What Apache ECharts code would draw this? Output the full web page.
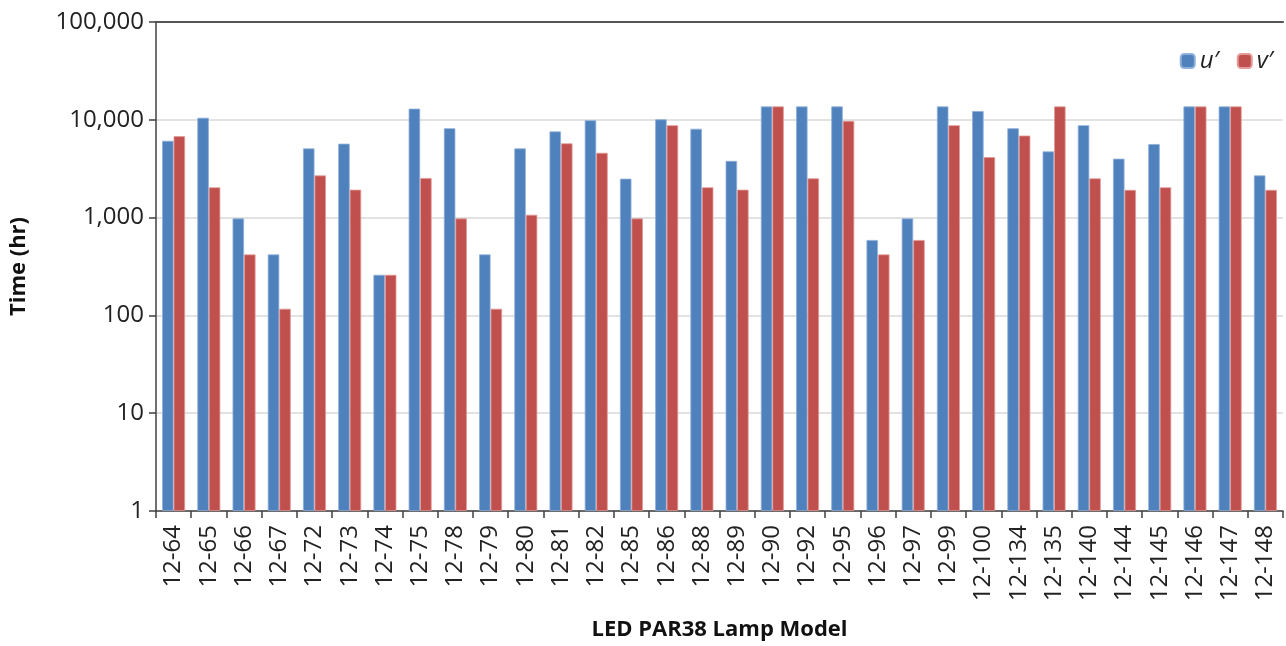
<!DOCTYPE html>
<html><head><meta charset="utf-8">
<script src="https://cdn.jsdelivr.net/npm/echarts@6/dist/echarts.min.js"></script>
<style>html,body{margin:0;padding:0;background:#fff}#c{width:1286px;height:646px}</style>
</head><body><div id="c"></div>
<script>
const categories = ['12-64','12-65','12-66','12-67','12-72','12-73','12-74','12-75','12-78','12-79','12-80','12-81','12-82','12-85','12-86','12-88','12-89','12-90','12-92','12-95','12-96','12-97','12-99','12-100','12-134','12-135','12-140','12-144','12-145','12-146','12-147','12-148'];
const uValues = [6100,10500,980,420,5100,5700,260,13000,8200,420,5100,7600,9900,2500,10100,8100,3800,13700,13700,13700,590,980,13700,12300,8200,4750,8800,4000,5650,13700,13700,2700];
const vValues = [6800,2040,420,117,2700,1930,260,2540,980,117,1070,5750,4600,980,8800,2040,1930,13700,2520,9750,420,590,8800,4150,6900,13700,2520,1920,2040,13700,13700,1920];
const yTicks = [1,10,100,1000,10000,100000];
const seriesNames = ['u\u2032','v\u2032'];

const font = 'Open Sans';
const chart = echarts.init(document.getElementById('c'));
chart.setOption({
  animation:false,
  textStyle:{fontFamily:font},
  legend:{
    right:8, top:44, itemWidth:14, itemHeight:14, itemGap:18,
    textStyle:{fontSize:24, fontStyle:'italic', color:'#222', fontFamily:font},
    data:seriesNames
  },
  grid:{left:150, right:3, top:22, bottom:130, containLabel:false},
  xAxis:[{
    type:'category', data:categories,
    name:'LED PAR38 Lamp Model', nameLocation:'middle', nameGap:108,
    nameTextStyle:{fontSize:22, fontWeight:'bold', color:'#111', fontFamily:font},
    axisLine:{lineStyle:{color:'#404040', width:1.5}},
    axisTick:{show:true, length:7, lineStyle:{color:'#404040', width:1.5}},
    axisLabel:{rotate:90, fontSize:24, color:'#222', margin:14, interval:0, fontFamily:font}
  },{
    type:'category', data:categories, position:'top',
    axisLine:{lineStyle:{color:'#555', width:2}},
    axisTick:{show:false}, axisLabel:{show:false}
  }],
  yAxis:{
    type:'log', logBase:10, min:yTicks[0], max:yTicks[yTicks.length-1],
    name:'Time (hr)', nameLocation:'middle', nameGap:126,
    nameTextStyle:{fontSize:22, fontWeight:'bold', color:'#111', fontFamily:font},
    axisLine:{show:true, lineStyle:{color:'#404040', width:1.5}},
    axisTick:{show:true, length:7, lineStyle:{color:'#404040', width:1.5}},
    axisLabel:{fontSize:24, color:'#222', margin:12, fontFamily:font,
      formatter:v=>Math.round(v).toLocaleString('en-US')},
    splitLine:{show:true, lineStyle:{color:'#d9d9d9', width:1.5}},
    minorTick:{show:false}
  },
  series:[
    {name:seriesNames[0], type:'bar', data:uValues, barWidth:11.5, barGap:'0%',
     itemStyle:{color:'#4f81bd', borderColor:'#8fb0da', borderWidth:0.8}},
    {name:seriesNames[1], type:'bar', data:vValues, barWidth:11.5, barGap:'0%',
     itemStyle:{color:'#c0504d', borderColor:'#e39a98', borderWidth:0.8}}
  ]
});
</script></body></html>
